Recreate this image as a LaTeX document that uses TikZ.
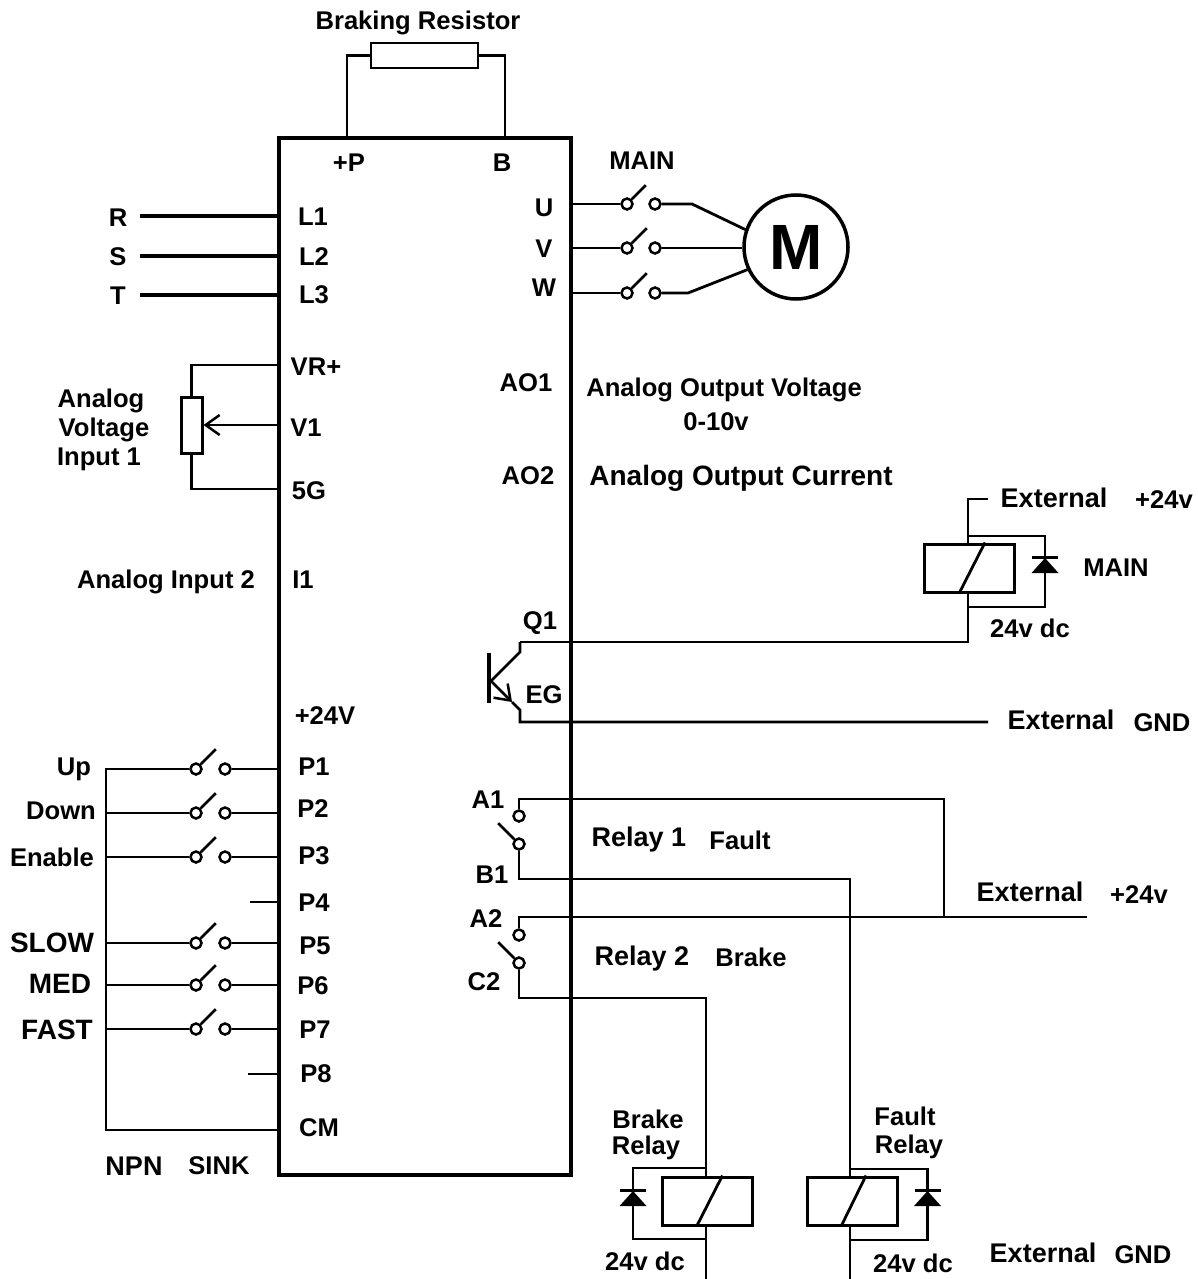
\documentclass[tikz,border=0pt]{standalone}
\usepackage{fontspec}
\setmainfont{Liberation Sans}
\usetikzlibrary{shapes.geometric,arrows.meta}

\begin{document}
\begin{tikzpicture}[
    x=1pt, y=-1pt,
    lab/.style={font=\fontsize{25.6}{30}\selectfont\bfseries, inner sep=0pt},
    midlab/.style={font=\fontsize{27}{30}\selectfont\bfseries, inner sep=0pt},
    widelab/.style={font=\fontsize{28}{30}\selectfont\bfseries, inner sep=0pt},
    drivebox/.style={rectangle, draw, line width=3.5pt, minimum width=292pt, minimum height=1037pt, inner sep=0pt},
    resistor/.style={rectangle, draw, line width=2.8pt, fill=white, inner sep=0pt},
    coil/.style={rectangle, draw, line width=3pt, fill=white, minimum width=90pt, minimum height=48pt, inner sep=0pt},
    contact/.style={circle, draw, line width=2.5pt, fill=white, minimum size=11pt, inner sep=0pt},
    diode/.style={isosceles triangle, isosceles triangle stretches, shape border rotate=90, fill=black, minimum width=27pt, minimum height=15pt, inner sep=0pt},
    wire/.style={line width=2.8pt},
    thickwire/.style={line width=3.2pt},
    thinwire/.style={line width=1.2pt},
    barb/.style={-{Straight Barb[length=14pt,width=20pt,line width=2.5pt]}}
]
\useasboundingbox (0,0) rectangle (1198,1279);

% Drive outline and braking resistor
\node[drivebox] (drive) at (425,656.5) {};
\node[resistor, minimum width=107pt, minimum height=25pt] (brake_res) at (424.5,55.5) {};
\node[lab] (brake_lab) at (418,23) {Braking Resistor};
\coordinate (term_p) at (347,138);
\coordinate (term_b) at (505,138);
\draw[wire] (term_p) |- (brake_res.west);
\draw[wire] (term_b) |- (brake_res.east);
\node[lab] (lab_p) at (349,163) {+P};
\node[lab] (lab_b) at (502,163) {B};

% Mains input
\node[lab] (lab_r) at (118,218) {R};
\node[lab] (lab_s) at (118,257) {S};
\node[lab] (lab_t) at (118,296) {T};
\node[lab] (lab_l1) at (313,217) {L1};
\node[lab] (lab_l2) at (314,257) {L2};
\node[lab] (lab_l3) at (314,295) {L3};
\coordinate (r_in) at (140,216);
\coordinate (s_in) at (140,256);
\coordinate (t_in) at (140,295);
\coordinate (term_l1) at (279,216);
\coordinate (term_l2) at (279,256);
\coordinate (term_l3) at (279,295);
\draw[thickwire] (r_in) -- (term_l1);
\draw[thickwire] (s_in) -- (term_l2);
\draw[thickwire] (t_in) -- (term_l3);

% Motor side
\node[lab] (lab_main) at (642,161) {MAIN};
\node[lab] (lab_u) at (544,208) {U};
\node[lab] (lab_v) at (544,249) {V};
\node[lab] (lab_w) at (544,288) {W};
\node[circle, draw, line width=3.5pt, minimum size=104pt, inner sep=0pt, font=\fontsize{64}{70}\selectfont\bfseries] (motor) at (796,247) {M};
\coordinate (term_u) at (571,204);
\coordinate (term_v) at (571,248);
\coordinate (term_w) at (571,293);
\coordinate (bend_u) at (692,204);
\coordinate (bend_w) at (688,293);
\node[contact] (u_a) at (627,204) {};
\node[contact] (u_b) at (655,204) {};
\node[contact] (v_a) at (627,248) {};
\node[contact] (v_b) at (655,248) {};
\node[contact] (w_a) at (627,293) {};
\node[contact] (w_b) at (655,293) {};
\draw[wire] (term_u) -- (u_a);
\draw[wire] (term_v) -- (v_a);
\draw[wire] (term_w) -- (w_a);
\draw[wire] (u_b) -- (bend_u) -- (motor.161);
\draw[wire] (v_b) -- (motor.west |- v_b);
\draw[wire] (w_b) -- (bend_w) -- (motor.205);
\draw[wire] (u_a.45) -- ++(14,-14);
\draw[wire] (v_a.45) -- ++(15,-15);
\draw[wire] (w_a.45) -- ++(15,-15);

% Analog inputs
\node[lab] (lab_vr) at (316,367) {VR+};
\node[lab] (lab_v1) at (306,428) {V1};
\node[lab] (lab_5g) at (309,491) {5G};
\node[lab] (lab_i1) at (303,580) {I1};
\node[lab] (lab_in1a) at (101,401) {Analog};
\node[lab] (lab_in1b) at (104,430) {Voltage};
\node[lab] (lab_in1c) at (99,459) {Input 1};
\node[lab] (lab_in2) at (166,582) {Analog Input 2};
\node[resistor, line width=3pt, minimum width=21pt, minimum height=56pt] (pot) at (191.5,425) {};
\coordinate (term_vr) at (279,365);
\coordinate (term_v1) at (279,425);
\coordinate (term_5g) at (279,489);
\draw[wire] (term_vr) -| (pot.north);
\draw[wire] (term_5g) -| (pot.south);
\draw[wire, barb] (term_v1) -- (pot.east);

% Analog outputs
\node[lab] (lab_ao1) at (526,383) {AO1};
\node[lab] (lab_ao2) at (528,476) {AO2};
\node[lab] (lab_out1) at (724,390) {Analog Output Voltage};
\node[lab] (lab_out1b) at (716,422) {0-10v};
\node[widelab] (lab_out2) at (741,478) {Analog Output Current};

% Open collector output and MAIN contactor coil
\node[lab] (lab_q1) at (540,623) {Q1};
\node[lab] (lab_eg) at (544,695) {EG};
\node[lab] (lab_24) at (325,716) {+24V};
\coordinate (q_top) at (489,653);
\coordinate (q_bot) at (489,703);
\coordinate (q_base) at (491,681);
\coordinate (q_c) at (520,652);
\coordinate (q_cw) at (520,642);
\coordinate (q_tip) at (512,702);
\coordinate (q_e) at (520,710);
\coordinate (q_ew) at (520,722);
\coordinate (gnd_end) at (988,722);
\draw[line width=3.5pt] (q_top) -- (q_bot);
\draw[wire] (q_base) -- (q_c) -- (q_cw);
\draw[wire, barb] (q_base) -- (q_tip);
\draw[wire] (q_tip) -- (q_e) -- (q_ew) -- (gnd_end);
\node[coil] (coil_main) at (969,568) {};
\draw[wire] ([xshift=-10pt]coil_main.south) -- ([xshift=16pt]coil_main.north);
\draw[wire] (q_cw) -- (968,642) -- (968,592);
\coordinate (main_ext) at (988,499);
\draw[wire] (main_ext) -| (968,544);
\coordinate (main_up) at (968,536);
\coordinate (main_dn) at (968,607);
\node[diode] (dio_main) at (1045,567) {};
\draw[wire] (main_up) -| (dio_main.apex);
\draw[wire] (main_dn) -| (dio_main.south);
\draw[wire] ([xshift=-13pt]dio_main.apex) -- ([xshift=13pt]dio_main.apex);
\node[midlab] (lab_ext1) at (1054,498) {External};
\node[lab] (lab_ext1v) at (1164,500) {+24v};
\node[lab] (lab_coil1) at (1116,568) {MAIN};
\node[lab] (lab_dc1) at (1030,628) {24v dc};
\node[midlab] (lab_ext2) at (1061,720) {External};
\node[lab] (lab_ext2g) at (1162,723) {GND};

% Digital inputs
\node[lab] (lab_up) at (74,769) {Up};
\node[lab] (lab_down) at (61,811) {Down};
\node[lab] (lab_enable) at (52,857) {Enable};
\node[widelab] (lab_slow) at (52,943) {SLOW};
\node[widelab] (lab_med) at (60,984) {MED};
\node[widelab] (lab_fast) at (57,1030) {FAST};
\node[lab] (lab_p1) at (314,767) {P1};
\node[lab] (lab_p2) at (313,809) {P2};
\node[lab] (lab_p3) at (314,856) {P3};
\node[lab] (lab_p4) at (314,903) {P4};
\node[lab] (lab_p5) at (315,946) {P5};
\node[lab] (lab_p6) at (313,986) {P6};
\node[lab] (lab_p7) at (315,1030) {P7};
\node[lab] (lab_p8) at (316,1074) {P8};
\node[lab] (lab_cm) at (319,1128) {CM};
\node[midlab] (lab_npn) at (134,1166) {NPN};
\node[lab] (lab_sink) at (219,1166) {SINK};
\coordinate (bus_top) at (106,769);
\coordinate (bus_p2) at (106,813);
\coordinate (bus_p3) at (106,857);
\coordinate (bus_p5) at (106,943);
\coordinate (bus_p6) at (106,985);
\coordinate (bus_p7) at (106,1029);
\coordinate (bus_bot) at (106,1130);
\coordinate (term_p1) at (279,769);
\coordinate (term_p2) at (279,813);
\coordinate (term_p3) at (279,857);
\coordinate (term_p4) at (279,902);
\coordinate (term_p5) at (279,943);
\coordinate (term_p6) at (279,985);
\coordinate (term_p7) at (279,1029);
\coordinate (term_p8) at (279,1074);
\coordinate (term_cm) at (279,1130);
\coordinate (stub_p4) at (250,902);
\coordinate (stub_p8) at (248,1074);
\node[contact] (p1_a) at (196,769) {};
\node[contact] (p1_b) at (225,769) {};
\node[contact] (p2_a) at (196,813) {};
\node[contact] (p2_b) at (225,813) {};
\node[contact] (p3_a) at (196,857) {};
\node[contact] (p3_b) at (225,857) {};
\node[contact] (p5_a) at (196,943) {};
\node[contact] (p5_b) at (225,943) {};
\node[contact] (p6_a) at (196,985) {};
\node[contact] (p6_b) at (225,985) {};
\node[contact] (p7_a) at (196,1029) {};
\node[contact] (p7_b) at (225,1029) {};
\draw[wire] (term_cm) -- (bus_bot) -- (bus_top) -- (p1_a);
\draw[wire] (bus_p2) -- (p2_a);
\draw[wire] (bus_p3) -- (p3_a);
\draw[wire] (bus_p5) -- (p5_a);
\draw[wire] (bus_p6) -- (p6_a);
\draw[wire] (bus_p7) -- (p7_a);
\draw[wire] (p1_b) -- (term_p1);
\draw[wire] (p2_b) -- (term_p2);
\draw[wire] (p3_b) -- (term_p3);
\draw[wire] (p5_b) -- (term_p5);
\draw[wire] (p6_b) -- (term_p6);
\draw[wire] (p7_b) -- (term_p7);
\draw[wire] (stub_p4) -- (term_p4);
\draw[wire] (stub_p8) -- (term_p8);
\draw[wire] (p1_a.45) -- ++(15,-15);
\draw[wire] (p2_a.45) -- ++(15,-15);
\draw[wire] (p3_a.45) -- ++(15,-15);
\draw[wire] (p5_a.45) -- ++(15,-15);
\draw[wire] (p6_a.45) -- ++(15,-15);
\draw[wire] (p7_a.45) -- ++(15,-15);

% Relay contacts
\node[lab] (lab_a1) at (488,800) {A1};
\node[lab] (lab_b1) at (492,875) {B1};
\node[lab] (lab_a2) at (486,919) {A2};
\node[lab] (lab_c2) at (484,982) {C2};
\node[midlab] (lab_rel1) at (639,840) {Relay 1};
\node[lab] (lab_fault) at (740,840) {Fault};
\node[midlab] (lab_rel2) at (642,959) {Relay 2};
\node[lab] (lab_brake) at (751,957) {Brake};
\node[contact] (a1_c) at (519,816) {};
\node[contact] (b1_c) at (519,844) {};
\node[contact] (a2_c) at (519,935) {};
\node[contact] (c2_c) at (519,963) {};
\coordinate (term_a1) at (571,799);
\coordinate (term_a2) at (571,917);
\coordinate (ext_tee) at (944,917);
\coordinate (ext_end) at (1087,917);
\draw[wire] (term_a1) -| (a1_c);
\draw[wire] (term_a2) -| (a2_c);
\draw[thinwire] (term_a1) -| (ext_tee);
\draw[thinwire] (term_a2) -- (ext_end);
\draw[wire] (b1_c.135) -- ++(-16,-16);
\draw[wire] (c2_c.135) -- ++(-16,-16);
\node[midlab] (lab_ext3) at (1030,892) {External};
\node[lab] (lab_ext3v) at (1139,895) {+24v};

% Brake relay coil
\node[coil] (coil_brake) at (707.5,1201) {};
\draw[wire] ([xshift=-11pt]coil_brake.south) -- ([xshift=15pt]coil_brake.north);
\coordinate (brake_bend) at (519,998);
\coordinate (brake_top) at (706,998);
\coordinate (brake_in) at (706,1177);
\coordinate (brake_out) at (706,1225);
\coordinate (brake_end) at (706,1279);
\coordinate (brake_up) at (706,1168);
\coordinate (brake_dn) at (706,1239);
\draw[wire] (c2_c) -- (brake_bend) -- (brake_top) -- (brake_in);
\draw[wire] (brake_out) -- (brake_end);
\node[diode] (dio_brake) at (633,1200) {};
\draw[wire] (brake_up) -| (dio_brake.apex);
\draw[wire] (brake_dn) -| (dio_brake.south);
\draw[wire] ([xshift=-13pt]dio_brake.apex) -- ([xshift=13pt]dio_brake.apex);
\node[lab] (lab_brk1) at (648,1119) {Brake};
\node[lab] (lab_brk2) at (646,1148) {Relay};
\node[lab] (lab_dc2) at (645,1261) {24v dc};

% Fault relay coil
\node[coil] (coil_fault) at (852,1201) {};
\draw[wire] ([xshift=-11pt]coil_fault.south) -- ([xshift=14pt]coil_fault.north);
\coordinate (fault_bend) at (519,879);
\coordinate (fault_top) at (850,879);
\coordinate (fault_in) at (850,1177);
\coordinate (fault_out) at (850,1225);
\coordinate (fault_end) at (850,1279);
\coordinate (fault_up) at (850,1169);
\coordinate (fault_dn) at (850,1240);
\draw[wire] (b1_c) -- (fault_bend) -- (fault_top) -- (fault_in);
\draw[wire] (fault_out) -- (fault_end);
\node[diode] (dio_fault) at (927.5,1200) {};
\draw[wire] (fault_up) -| (dio_fault.apex);
\draw[wire] (fault_dn) -| (dio_fault.south);
\draw[wire] ([xshift=-13pt]dio_fault.apex) -- ([xshift=13pt]dio_fault.apex);
\node[lab] (lab_flt1) at (905,1116) {Fault};
\node[lab] (lab_flt2) at (909,1147) {Relay};
\node[lab] (lab_dc3) at (913,1263) {24v dc};
\node[midlab] (lab_ext4) at (1043,1253) {External};
\node[lab] (lab_ext4g) at (1143,1255) {GND};

\end{tikzpicture}
\end{document}
